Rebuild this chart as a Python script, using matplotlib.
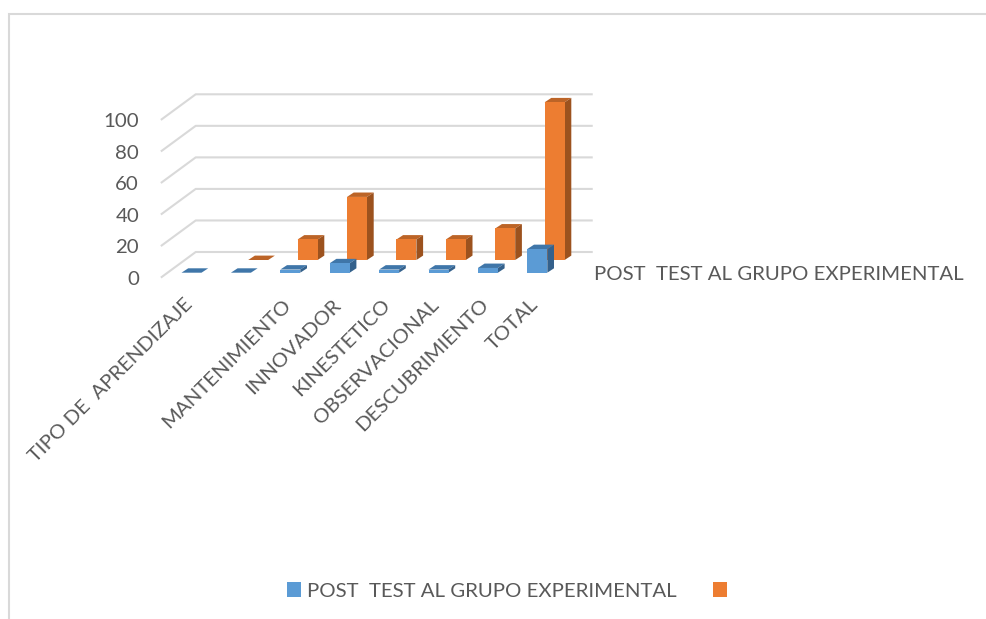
import numpy as np
import matplotlib
matplotlib.use("Agg")
import matplotlib.pyplot as plt

categories = ["TIPO DE  APRENDIZAJE", "", "MANTENIMIENTO", "INNOVADOR", "KINESTETICO",
              "OBSERVACIONAL", "DESCUBRIMIENTO", "TOTAL"]
series_name = "POST  TEST AL GRUPO EXPERIMENTAL"
blue_values = [0, 0, 2, 6, 2, 2, 3, 15]
orange_values = [np.nan, 0, 13, 40, 13, 13, 20, 100]
y_ticks = [0, 20, 40, 60, 80, 100]

W, H = 986, 619
PX_X = 49.4           # px per category
PX_Y = 1.577          # px per value unit
X0, Y0 = 191.5, 277.0  # px location of category 0 / value 0
def dx(px): return px / PX_X
def dy(px): return px / PX_Y

plt.rcParams["font.family"] = ["Lato", "DejaVu Sans"]
TXT = "#595959"
GRID = "#d9d9d9"
FS = 14.7

fig = plt.figure(figsize=(W / 100, H / 100), dpi=100, facecolor="white")
ax = fig.add_axes([0, 0, 1, 1])
ax.set_xlim(-X0 / PX_X, (W - X0) / PX_X)
ax.set_ylim((Y0 - H) / PX_Y, Y0 / PX_Y)
ax.axis("off")

# outer frame (left and top edges only are visible in the reference)
x_l, y_t = dx(9 - X0), dy(Y0 - 14)
ax.plot([x_l, x_l, dx(W - X0)], [dy(Y0 - H), y_t, y_t], color=GRID, lw=1.5, solid_joinstyle="miter")

# floor/wall gridlines
wall_dx, wall_dy = dx(34), dy(25)
x_front, x_end = dx(161.7 - X0), dx(591.7 - X0)
for t in y_ticks:
    ax.plot([x_front, x_front + wall_dx, x_end], [t, t + wall_dy, t + wall_dy], color=GRID, lw=1.5, zorder=1)
    ax.text(dx(139 - X0), t - dy(2.5), str(t), ha="right", va="center", fontsize=FS, color=TXT)

BAR_W = 20 / PX_X
DEPTH_X, DEPTH_Y = dx(6.7), dy(4.4)

def draw_series(values, x_off, bottom, front, top, side, z):
    xs = np.arange(len(values)) + x_off
    bars = ax.bar(xs, values, width=BAR_W, bottom=bottom, color=front, linewidth=0, zorder=z + 0.2)
    for x, v in zip(xs, values):
        if np.isnan(v):
            continue
        l, r, b, t = x - BAR_W / 2, x + BAR_W / 2, bottom, bottom + v
        ax.fill([l, r, r + DEPTH_X, l + DEPTH_X], [t, t, t + DEPTH_Y, t + DEPTH_Y], color=top, lw=0, zorder=z)
        ax.fill([r, r + DEPTH_X, r + DEPTH_X, r], [b, b + DEPTH_Y, t + DEPTH_Y, t], color=side, lw=0, zorder=z)
    return bars

orange_bars = draw_series(orange_values, dx(17.3), dy(17.0), "#ED7D31", "#BC6427", "#9C521E", 2)
blue_bars = draw_series(blue_values, 0, dy(4.3), "#5B9BD5", "#3F76A9", "#34618C", 3)

# category labels
for i, name in enumerate(categories):
    ax.text(i + dx(-2), dy(Y0 - 302), name, rotation=45, rotation_mode="anchor",
            ha="right", va="center", fontsize=FS, color=TXT)

# depth axis label
ax.text(dx(594 - X0), dy(Y0 - 275), series_name, ha="left", va="center", fontsize=FS, color=TXT)

# legend
leg = ax.legend([blue_bars[-1], orange_bars[-1]], [series_name, ""], ncol=2, frameon=False,
                loc="center", bbox_to_anchor=(510 / W, 1 - 591 / H), bbox_transform=fig.transFigure,
                fontsize=FS, labelcolor=TXT, handlelength=0.69, handleheight=0.69,
                handletextpad=0.3, columnspacing=1.75, borderpad=0)

fig.savefig("out.png", dpi=100)
